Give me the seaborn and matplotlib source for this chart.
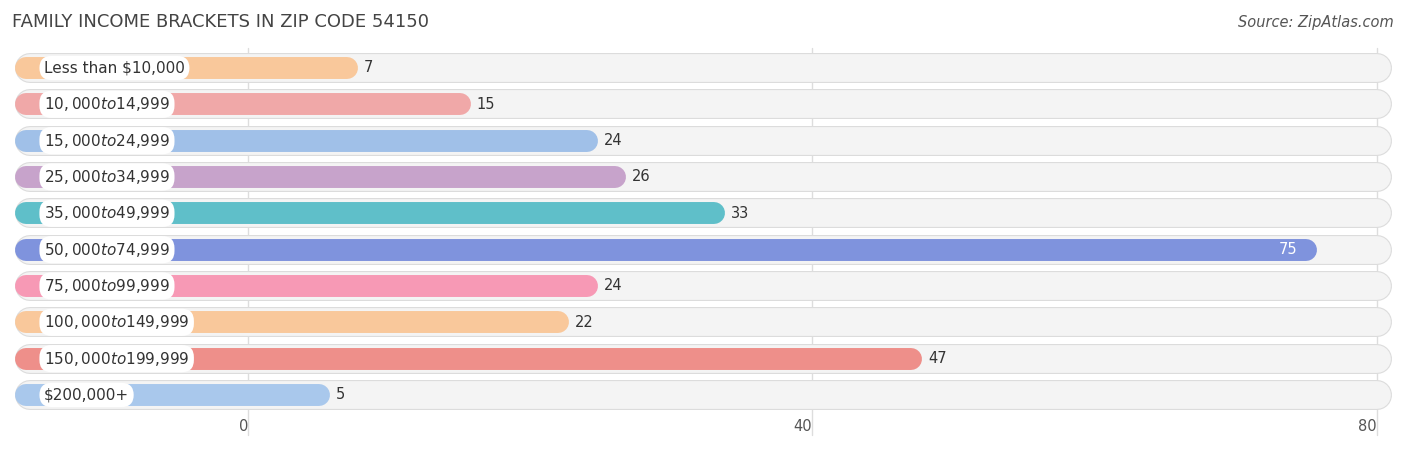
import matplotlib.pyplot as plt
import seaborn as sns

categories = ["Less than $10,000", "$10,000 to $14,999", "$15,000 to $24,999",
              "$25,000 to $34,999", "$35,000 to $49,999", "$50,000 to $74,999",
              "$75,000 to $99,999", "$100,000 to $149,999", "$150,000 to $199,999",
              "$200,000+"]
values = [7, 15, 24, 26, 33, 75, 24, 22, 47, 5]
colors = ["#F9C89B", "#F0A8A8", "#A0C0E8", "#C7A3CB", "#5FBFC9",
          "#7F93DD", "#F799B5", "#F9C89B", "#EE8F8A", "#A9C8EC"]
x_ticks = [0, 40, 80]

sns.set_theme(style="white")
fig = plt.figure(figsize=(14.06, 4.5), dpi=100)
ax = fig.add_axes([0, 0, 1, 1])
ax.set_axis_off()

px = 14.11          # pixels per unit
row = 36.33         # pixels per row
ax.set_xlim(-248 / px, (1406 - 248) / px)
ax.set_ylim(450 / row, 0)
y0 = 68 / row
start = (26 - 248) / px

for t in x_ticks:
    ax.plot([t, t], [48 / row, 435 / row], color="#DDDDDD", lw=1, zorder=0)
    ax.text(t, 426 / row, str(t), ha="right" if t else "right", va="center",
            fontsize=10.5, color="#555555")

for i, (cat, v, c) in enumerate(zip(categories, values, colors)):
    y = y0 + i
    ax.plot([(30 - 248) / px, (1377 - 248) / px], [y, y], lw=21.6,
            solid_capstyle="round", color="#DCDCDC", zorder=1)
    ax.plot([(30 - 248) / px, (1377 - 248) / px], [y, y], lw=20,
            solid_capstyle="round", color="#F4F4F4", zorder=1)
    ax.plot([start, v], [y, y], lw=15.8, solid_capstyle="round", color=c, zorder=2)
    ax.text(44 / px - 248 / px, y, cat, va="center", ha="left", fontsize=11, color="#333333",
            zorder=4, bbox=dict(boxstyle="round,pad=0.3,rounding_size=0.8", fc="white", ec="none"))
    if v > 60:
        ax.text(v - 0.6, y, str(v), va="center", ha="right", fontsize=10.5, color="white", zorder=4)
    else:
        ax.text(v + 1.2, y, str(v), va="center", ha="left", fontsize=10.5, color="#333333", zorder=4)

fig.text(12 / 1406, 1 - 22 / 450, "FAMILY INCOME BRACKETS IN ZIP CODE 54150", fontsize=13,
         color="#444444", va="center", ha="left")
fig.text(1394 / 1406, 1 - 22 / 450, "Source: ZipAtlas.com", fontsize=10.5, style="italic",
         color="#555555", va="center", ha="right")

fig.savefig("out.png", dpi=100)
